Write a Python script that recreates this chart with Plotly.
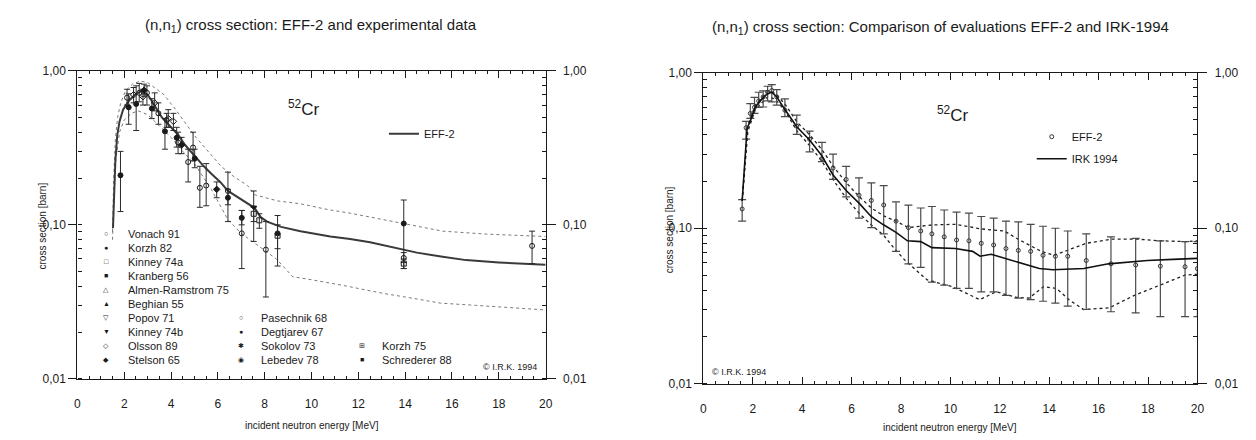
import plotly.graph_objects as go

# ================= DATA =================
# ---- Left panel: EFF-2 evaluation curve and its uncertainty band ----
eff2_E = [1.52, 1.57, 1.62, 1.70, 1.80, 1.95, 2.20, 2.50, 2.75, 3.00, 3.20, 3.60, 4.00, 4.30, 4.60,
          5.00, 5.40, 5.72, 6.10, 6.43, 6.90, 7.27, 7.56, 7.84, 8.10, 8.70, 9.53, 10.8, 11.65, 12.5,
          13.77, 14.5, 15.6, 16.6, 18.0, 19.0, 20.0]
eff2_S = [0.095, 0.16, 0.26, 0.38, 0.47, 0.56, 0.64, 0.71, 0.74, 0.70, 0.63, 0.50, 0.43, 0.385, 0.33,
          0.28, 0.24, 0.215, 0.19, 0.166, 0.15, 0.139, 0.129, 0.112, 0.105, 0.097, 0.091, 0.084, 0.081, 0.077,
          0.070, 0.066, 0.062, 0.059, 0.057, 0.056, 0.055]

upL_E = [1.50, 1.55, 1.62, 1.72, 1.85, 2.05, 2.35, 2.68, 3.00, 3.40, 3.70, 4.20, 4.70, 5.00, 5.50,
         6.14, 6.60, 7.27, 7.56, 8.55, 9.53, 10.66, 11.65, 13.9, 15.6, 17.5, 20.0]
upL_S = [0.09, 0.20, 0.36, 0.50, 0.62, 0.74, 0.82, 0.86, 0.84, 0.76, 0.70, 0.56, 0.44, 0.38, 0.31,
         0.24, 0.21, 0.18, 0.157, 0.143, 0.137, 0.126, 0.119, 0.102, 0.091, 0.087, 0.084]

loL_E = [1.50, 1.56, 1.65, 1.80, 2.00, 2.30, 2.60, 3.00, 3.50, 4.00, 4.50, 5.00, 5.72, 6.43, 7.00,
         7.70, 8.50, 9.20, 10.0, 11.5, 13.0, 14.5, 15.5, 17.0, 18.5, 20.0]
loL_S = [0.08, 0.15, 0.27, 0.40, 0.48, 0.53, 0.55, 0.52, 0.44, 0.37, 0.30, 0.25, 0.17, 0.108, 0.088,
         0.074, 0.060, 0.046, 0.044, 0.040, 0.036, 0.033, 0.031, 0.030, 0.029, 0.028]

# ---- Left panel: experimental data sets (energy, value, upper end, lower end of error bar) ----
exp_sets = [
    dict(name="Vonach 91", symbol="circle-open",
         E=[2.12, 2.64, 2.97, 3.46, 3.81, 4.30, 4.73, 4.94, 5.23, 5.50, 6.43, 7.02, 8.05, 13.94, 19.42],
         S=[0.67, 0.72, 0.72, 0.53, 0.48, 0.343, 0.256, 0.318, 0.174, 0.180, 0.166, 0.088, 0.069, 0.061, 0.073],
         hi=[0.76, 0.83, 0.80, 0.62, 0.53, 0.40, 0.31, 0.40, 0.24, 0.25, 0.22, 0.124, 0.105, 0.066, 0.091],
         lo=[0.60, 0.63, 0.60, 0.45, 0.43, 0.29, 0.19, 0.26, 0.13, 0.133, 0.105, 0.052, 0.034, 0.057, 0.056]),
    dict(name="Korzh 82", symbol="circle",
         E=[1.84, 2.19, 2.51, 3.18, 3.74, 4.24, 5.01, 6.43, 7.02, 8.55],
         S=[0.21, 0.58, 0.61, 0.57, 0.405, 0.368, 0.27, 0.15, 0.111, 0.088],
         hi=[0.30, 0.71, 0.80, 0.66, 0.49, 0.43, 0.31, 0.17, 0.124, 0.115],
         lo=[0.122, 0.45, 0.41, 0.49, 0.31, 0.32, 0.235, 0.135, 0.10, 0.054]),
    dict(name="Kinney 74a", symbol="square-open",
         E=[7.53, 7.77, 8.55, 13.94],
         S=[0.118, 0.107, 0.085, 0.056],
         hi=[0.13, 0.118, 0.10, 0.060],
         lo=[0.105, 0.095, 0.07, 0.052]),
    dict(name="Kinney 74b", symbol="triangle-down",
         E=[7.53], S=[0.13], hi=[0.166], lo=[0.078]),
    dict(name="Olsson 89", symbol="diamond-open",
         E=[2.40, 2.80, 3.30, 3.88, 4.10],
         S=[0.70, 0.68, 0.62, 0.49, 0.47],
         hi=[0.78, 0.76, 0.72, 0.56, 0.53],
         lo=[0.62, 0.60, 0.55, 0.43, 0.41]),
    dict(name="Stelson 65", symbol="diamond",
         E=[2.85, 4.45, 5.95], S=[0.75, 0.33, 0.17], hi=[0.82, 0.37, 0.19], lo=[0.68, 0.29, 0.15]),
    dict(name="Degtjarev 67", symbol="circle",
         E=[13.94], S=[0.102], hi=[0.145], lo=[0.052]),
]

# ---- Left panel legend texts ----
leg_col1 = ["Vonach 91", "Korzh 82", "Kinney 74a", "Kranberg 56", "Almen-Ramstrom 75", "Beghian 55",
            "Popov 71", "Kinney 74b", "Olsson 89", "Stelson 65"]
sym_col1 = ["○", "●", "□", "■", "△", "▲", "▽", "▼", "◇", "◆"]
leg_col2 = ["Pasechnik 68", "Degtjarev 67", "Sokolov 73", "Lebedev 78"]
sym_col2 = ["○", "●", "✱", "◉"]
leg_col3 = ["Korzh 75", "Schrederer 88"]
sym_col3 = ["⊞", "■"]

# ---- Right panel: EFF-2 points with uncertainties ----
effR_E = [1.57, 1.73, 1.90, 2.07, 2.24, 2.42, 2.60, 2.77, 2.97, 3.30, 3.78, 4.30, 4.80, 5.25, 5.78,
          6.30, 6.80, 7.30, 7.80, 8.30, 8.80, 9.25, 9.75, 10.25, 10.75, 11.25, 11.75, 12.25, 12.75,
          13.25, 13.75, 14.25, 14.75, 15.50, 16.50, 17.50, 18.50, 19.50, 20.0]
effR_S = [0.133, 0.443, 0.548, 0.60, 0.66, 0.70, 0.75, 0.77, 0.70, 0.575, 0.453, 0.374, 0.28, 0.244,
          0.206, 0.163, 0.151, 0.141, 0.111, 0.101, 0.096, 0.092, 0.088, 0.084, 0.083, 0.080, 0.078,
          0.074, 0.072, 0.071, 0.067, 0.066, 0.066, 0.062, 0.059, 0.058, 0.057, 0.0565, 0.055]
effR_hi = [0.153, 0.487, 0.633, 0.696, 0.75, 0.765, 0.82, 0.84, 0.78, 0.68, 0.535, 0.422, 0.357, 0.30,
           0.25, 0.211, 0.196, 0.188, 0.148, 0.141, 0.135, 0.138, 0.131, 0.127, 0.125, 0.119, 0.116,
           0.111, 0.110, 0.106, 0.103, 0.100, 0.096, 0.092, 0.088, 0.086, 0.083, 0.082, 0.082]
effR_lo = [0.111, 0.374, 0.51, 0.548, 0.60, 0.603, 0.66, 0.65, 0.62, 0.523, 0.402, 0.31, 0.268, 0.206,
           0.159, 0.116, 0.101, 0.092, 0.071, 0.059, 0.056, 0.045, 0.043, 0.041, 0.041, 0.039, 0.039,
           0.037, 0.0355, 0.0347, 0.0339, 0.033, 0.0315, 0.030, 0.029, 0.0285, 0.027, 0.027, 0.027]

# ---- Right panel: IRK-1994 evaluation and its uncertainty band ----
irk_E = [1.57, 1.77, 1.90, 2.10, 2.30, 2.57, 2.77, 2.97, 3.24, 3.78, 4.30, 4.78, 5.25, 5.78, 6.32,
         6.79, 7.26, 7.80, 8.26, 8.80, 9.25, 10.2, 10.9, 11.2, 11.65, 12.7, 13.6, 14.15, 15.4, 16.4,
         17.45, 17.97, 19.0, 20.0]
irk_S = [0.15, 0.44, 0.49, 0.60, 0.66, 0.73, 0.75, 0.70, 0.60, 0.45, 0.37, 0.295, 0.22, 0.175, 0.144,
         0.119, 0.106, 0.094, 0.083, 0.082, 0.075, 0.074, 0.071, 0.066, 0.068, 0.061, 0.055, 0.054,
         0.055, 0.059, 0.061, 0.062, 0.063, 0.064]

upR_E = [1.57, 1.80, 2.10, 2.60, 2.90, 3.30, 3.80, 4.30, 4.80, 5.30, 5.80, 6.30, 6.80, 7.30, 7.80,
         8.30, 9.26, 10.2, 11.24, 12.18, 12.74, 13.68, 14.2, 14.9, 15.5, 16.5, 17.57, 18.5, 19.57, 20.0]
upR_S = [0.15, 0.46, 0.62, 0.76, 0.74, 0.63, 0.48, 0.40, 0.32, 0.245, 0.195, 0.16, 0.135, 0.12, 0.111,
         0.101, 0.105, 0.106, 0.099, 0.096, 0.085, 0.071, 0.067, 0.074, 0.080, 0.085, 0.085, 0.083,
         0.082, 0.083]

loR_E = [1.57, 1.80, 2.10, 2.60, 2.90, 3.30, 3.80, 4.30, 4.80, 5.30, 5.80, 6.30, 6.80, 7.30, 7.73,
         8.17, 9.06, 10.09, 11.19, 11.85, 12.67, 13.18, 13.77, 14.29, 14.8, 15.39, 16.42, 17.45, 18.48,
         19.51, 20.0]
loR_S = [0.15, 0.42, 0.58, 0.70, 0.68, 0.57, 0.42, 0.34, 0.27, 0.20, 0.155, 0.125, 0.105, 0.09, 0.074,
         0.062, 0.0465, 0.042, 0.0347, 0.039, 0.0359, 0.0355, 0.042, 0.041, 0.0347, 0.030, 0.0307,
         0.037, 0.043, 0.050, 0.0505]

x_ticks = [0, 2, 4, 6, 8, 10, 12, 14, 16, 18, 20]

# ================= FIGURE =================
W, H = 1256, 440
def px(X):
    return X / W
def py(Y):
    return 1 - Y / H

FONT = "Liberation Sans, Arial, Helvetica, sans-serif"
INK = "#1a1a1a"

fig = go.Figure()

# ---- left panel traces ----
fig.add_trace(go.Scatter(x=upL_E, y=upL_S, mode="lines", xaxis="x", yaxis="y",
                         line=dict(color="#7a7a7a", width=1, dash="dot"), showlegend=False, hoverinfo="skip"))
fig.add_trace(go.Scatter(x=loL_E, y=loL_S, mode="lines", xaxis="x", yaxis="y",
                         line=dict(color="#7a7a7a", width=1, dash="dot"), showlegend=False, hoverinfo="skip"))
fig.add_trace(go.Scatter(x=eff2_E, y=eff2_S, mode="lines", xaxis="x", yaxis="y", name="EFF-2",
                         line=dict(color="#3a3a3a", width=2), legend="legend", showlegend=True))
for ds in exp_sets:
    up = [h - s for h, s in zip(ds["hi"], ds["S"])]
    dn = [s - l for s, l in zip(ds["S"], ds["lo"])]
    fig.add_trace(go.Scatter(
        x=ds["E"], y=ds["S"], mode="markers", xaxis="x", yaxis="y", name=ds["name"], showlegend=False,
        marker=dict(symbol=ds["symbol"], size=5, color=INK, line=dict(color=INK, width=1)),
        error_y=dict(type="data", symmetric=False, array=up, arrayminus=dn,
                     color="#2a2a2a", thickness=1, width=3)))
# transparent copy so that the right-hand label axis of the left panel is drawn
fig.add_trace(go.Scatter(x=eff2_E, y=eff2_S, mode="lines", xaxis="x", yaxis="y3", opacity=0,
                         line=dict(width=0), showlegend=False, hoverinfo="skip"))

# ---- right panel traces ----
fig.add_trace(go.Scatter(x=upR_E, y=upR_S, mode="lines", xaxis="x2", yaxis="y2",
                         line=dict(color="#222", width=1.3, dash="dot"), showlegend=False, hoverinfo="skip"))
fig.add_trace(go.Scatter(x=loR_E, y=loR_S, mode="lines", xaxis="x2", yaxis="y2",
                         line=dict(color="#222", width=1.3, dash="dot"), showlegend=False, hoverinfo="skip"))
effR_up = [h - s for h, s in zip(effR_hi, effR_S)]
effR_dn = [s - l for s, l in zip(effR_S, effR_lo)]
fig.add_trace(go.Scatter(
    x=effR_E, y=effR_S, mode="markers", xaxis="x2", yaxis="y2", name="EFF-2",
    legend="legend2", legendgroup="a", legendrank=1,
    marker=dict(symbol="circle-open", size=4, color="#333", line=dict(width=1)),
    error_y=dict(type="data", symmetric=False, array=effR_up, arrayminus=effR_dn,
                 color="#4a4a4a", thickness=1.2, width=4)))
fig.add_trace(go.Scatter(x=irk_E, y=irk_S, mode="lines", xaxis="x2", yaxis="y2", name="IRK 1994",
                         legend="legend2", legendgroup="b", legendrank=2,
                         line=dict(color="#111", width=1.6)))
fig.add_trace(go.Scatter(x=irk_E, y=irk_S, mode="lines", xaxis="x2", yaxis="y4", opacity=0,
                         line=dict(width=0), showlegend=False, hoverinfo="skip"))

# ---- axes ----
def xax(domain, anchor):
    return dict(domain=domain, anchor=anchor, range=[0, 20], tickmode="array", tickvals=x_ticks,
                ticks="inside", ticklen=7, tickwidth=1, tickcolor=INK, showline=True, linecolor=INK,
                linewidth=1.2, mirror="ticks", showgrid=False, zeroline=False,
                minor=dict(dtick=0.5, ticks="inside", ticklen=3, tickcolor=INK, showgrid=False),
                tickfont=dict(family=FONT, size=12, color=INK), ticklabelstandoff=14)

def yax(domain, anchor):
    return dict(domain=domain, anchor=anchor, type="log", range=[-2, 0], tickmode="linear", tick0=0,
                dtick=1, tickformat=".2f", ticks="outside", ticklen=8, tickwidth=1.2, tickcolor=INK,
                showline=True, linecolor=INK, linewidth=1.2, mirror="ticks", showgrid=False,
                zeroline=False, minor=dict(dtick="D1", ticks="inside", ticklen=4, tickcolor=INK,
                                           showgrid=False),
                tickfont=dict(family=FONT, size=12, color=INK))

def yax_right(overlay, anchor):
    return dict(overlaying=overlay, anchor=anchor, side="right", type="log", range=[-2, 0],
                tickmode="linear", tick0=0, dtick=1, tickformat=".2f", ticks="outside", ticklen=9,
                tickwidth=1.2, tickcolor=INK, ticklabelstandoff=5,
                showline=False, showgrid=False, zeroline=False,
                tickfont=dict(family=FONT, size=12, color=INK))

fig.update_layout(
    width=W, height=H, margin=dict(l=0, r=0, t=0, b=0),
    paper_bgcolor="white", plot_bgcolor="white", separators=",.",
    xaxis=xax([px(75), px(547)], "y"),
    yaxis=yax([py(384), py(66)], "x"),
    yaxis3=yax_right("y", "x"),
    xaxis2=xax([px(706), px(1204)], "y2"),
    yaxis2=yax([py(389), py(68)], "x2"),
    yaxis4=yax_right("y2", "x2"),
    legend=dict(x=px(384), y=py(116), xanchor="left", yanchor="top", bgcolor="rgba(0,0,0,0)",
                font=dict(family=FONT, size=11, color=INK)),
    legend2=dict(x=px(1037), y=py(119), xanchor="left", yanchor="top", bgcolor="rgba(0,0,0,0)",
                 traceorder="grouped", tracegroupgap=3, font=dict(family=FONT, size=11, color=INK)),
)

ann = []
def text(X, Y, t, size, anchor="center", angle=0):
    ann.append(dict(x=px(X), y=py(Y), xref="paper", yref="paper", text=t, showarrow=False,
                    xanchor=anchor, yanchor="middle", textangle=angle,
                    font=dict(family=FONT, size=size, color=INK)))

# titles
text(310, 19, "(n,n<sub>1</sub>) cross section: EFF-2 and experimental data", 15)
text(945, 21, "(n,n<sub>1</sub>) cross section: Comparison of evaluations EFF-2 and IRK-1994", 15)
# axis titles
text(40, 226, "cross section [barn]", 10, angle=-90)
text(672, 230, "cross section [barn]", 10, angle=-90)
text(311, 432, "incident neutron energy [MeV]", 10)
text(955, 434, "incident neutron energy [MeV]", 10)
# nuclide labels
text(303, 104, "<sup>52</sup>Cr", 17)
text(958, 110, "<sup>52</sup>Cr", 17)
# copyright
text(540, 372, "© I.R.K. 1994", 9, anchor="right")
text(713, 377, "© I.R.K. 1994", 9, anchor="left")

# left legend of experiments
row_Y = [234 + 14.5 * i for i in range(10)]
for i, (s, n) in enumerate(zip(sym_col1, leg_col1)):
    text(104, row_Y[i], s, 7)
    text(124, row_Y[i], n, 11, anchor="left")
for i, (s, n) in enumerate(zip(sym_col2, leg_col2)):
    text(240, row_Y[6 + i], s, 7)
    text(258, row_Y[6 + i], n, 11, anchor="left")
for i, (s, n) in enumerate(zip(sym_col3, leg_col3)):
    text(362, row_Y[8 + i], s, 7)
    text(380, row_Y[8 + i], n, 11, anchor="left")

fig.update_layout(annotations=ann)
fig.write_html("out.html")
